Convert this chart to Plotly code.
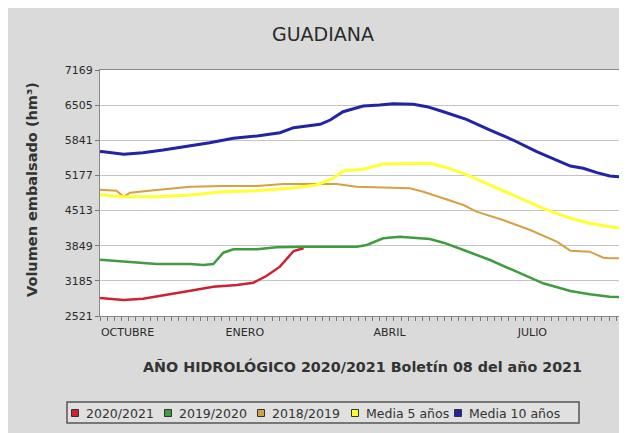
import plotly.graph_objects as go

# ---------------- data ----------------
y_ticks = [2521, 3185, 3849, 4513, 5177, 5841, 6505, 7169]
x_tick_pos = [3.84, 20.2, 40.38, 60.3]
x_tick_text = ["OCTUBRE", "ENERO", "ABRIL", "JULIO"]

x_2021 = [0, 0.5, 3.3, 6, 8.8, 12.6, 15.8, 19.1, 21.4, 23.2, 25.1, 27, 28.4]
v_2021 = [2860, 2855, 2823, 2848, 2918, 2999, 3075, 3107, 3150, 3277, 3453, 3749, 3800]

x_1920 = [0, 0.5, 3.3, 7.9, 12.6, 14.4, 15.8, 17.2, 18.6, 21.9, 24.6, 28.4, 35.8, 37.2,
          39.5, 41.8, 46, 47.9, 50.7, 54.4, 58.1, 61.8, 65.6, 68.3, 71.1, 72.4]
v_1920 = [3585, 3579, 3547, 3504, 3504, 3485, 3504, 3717, 3781, 3781, 3819, 3831, 3831, 3862,
          3989, 4020, 3976, 3906, 3768, 3579, 3358, 3139, 2993, 2931, 2886, 2880]

x_1819 = [0, 0.5, 2.3, 3.3, 4.2, 7.9, 12.6, 17.2, 21.9, 25.6, 30.2, 33, 35.8, 40.4, 43.2,
          45.1, 47.9, 50.7, 52.5, 56.2, 60, 63.7, 65.6, 68.3, 70.2, 71.1, 72.4]
v_1819 = [4905, 4902, 4889, 4775, 4851, 4902, 4965, 4977, 4977, 5015, 5015, 5015, 4965, 4953, 4933,
          4870, 4745, 4618, 4492, 4335, 4146, 3925, 3755, 3736, 3623, 3610, 3610]

x_m5 = [0, 0.5, 3.3, 7.9, 12.6, 17.2, 21.9, 26.5, 30.2, 32.5, 33.9, 36.7, 39.5, 42.8, 46,
        47.9, 50.7, 54.4, 58.1, 61.8, 65.6, 68.3, 71.1, 72.4]
v_m5 = [4810, 4807, 4775, 4775, 4807, 4870, 4889, 4933, 4996, 5122, 5261, 5293, 5393, 5406, 5406,
        5342, 5217, 4996, 4775, 4556, 4367, 4273, 4208, 4190]

x_m10 = [0, 0.5, 3.3, 6, 8.8, 12.6, 15.3, 18.6, 21.9, 25.1, 27, 30.7, 32.1, 33.9, 36.7, 39,
         40.9, 43.7, 45.6, 47.9, 51.1, 54.4, 57.6, 60.9, 63.7, 65.6, 67.4, 69.3, 71.1, 72.4]
v_m10 = [5630, 5626, 5576, 5607, 5657, 5733, 5795, 5878, 5922, 5984, 6079, 6143, 6224, 6381, 6489, 6508,
         6532, 6521, 6476, 6381, 6237, 6035, 5846, 5626, 5469, 5355, 5312, 5229, 5166, 5150]

series = [
    ("2020/2021", x_2021, v_2021, "#cc2233", 2.5),
    ("2019/2020", x_1920, v_1920, "#3f9c3f", 2.5),
    ("2018/2019", x_1819, v_1819, "#d6a044", 2),
    ("Media 5 años", x_m5, v_m5, "#ffff33", 3),
    ("Media 10 años", x_m10, v_m10, "#2323a8", 3),
]

FONT = "DejaVu Sans"
BG = "#dadada"

# the page body has an 8px margin; all screen positions below are figure pixels
OFF = 8
W, H = 627 - OFF, 433 - OFF
L, R, T, B = 100 - OFF, 624 - OFF, 70 - OFF, 316 - OFF


def px(p):  # screen x pixel -> paper
    return (p - OFF - L) / (R - L)


def py(p):  # screen y pixel -> paper
    return (B - (p - OFF)) / (B - T)


fig = go.Figure()
for name, xs, vs, col, w in series:
    fig.add_trace(go.Scatter(x=xs, y=vs, mode="lines", name=name,
                             line=dict(color=col, width=w), showlegend=False))

shapes = []
annotations = []

# legend box (drawn by hand, JFreeChart style)
shapes.append(dict(type="rect", xref="paper", yref="paper", x0=px(67), x1=px(579),
                   y0=py(423), y1=py(402), fillcolor="#e0e0e0",
                   line=dict(color="#555555", width=1.5)))
leg_sq = [75, 168, 261, 355, 458]
for (name, xs, vs, col, w), sx in zip(series, leg_sq):
    shapes.append(dict(type="rect", xref="paper", yref="paper",
                       x0=px(sx - 3.5), x1=px(sx + 3.5), y0=py(416.5), y1=py(409.5),
                       fillcolor=col, line=dict(color="#333333", width=1)))
    annotations.append(dict(text=name, xref="paper", yref="paper", x=px(sx + 9), y=py(413),
                            xanchor="left", yanchor="middle", showarrow=False,
                            font=dict(family=FONT, size=12.5, color="#333333")))

# axis titles
annotations.append(dict(text="AÑO HIDROLÓGICO 2020/2021 Boletín 08 del año 2021",
                        xref="paper", yref="paper", x=px(362.5), y=py(366),
                        xanchor="center", yanchor="middle", showarrow=False,
                        font=dict(family=FONT, size=14.3, color="#333333", weight="bold")))
annotations.append(dict(text="Volumen embalsado (hm³)", textangle=-90,
                        xref="paper", yref="paper", x=px(32), y=py(190),
                        xanchor="center", yanchor="middle", showarrow=False,
                        font=dict(family=FONT, size=14.5, color="#333333", weight="bold")))

fig.update_layout(
    width=W, height=H,
    margin=dict(l=L, r=W - R, t=T, b=H - B),
    paper_bgcolor=BG, plot_bgcolor="white",
    title=dict(text="GUADIANA", x=(323 - OFF) / W, y=1 - (34 - OFF) / H,
               xanchor="center", yanchor="middle",
               font=dict(family=FONT, size=19, color="#2a2a2a")),
    shapes=shapes, annotations=annotations,
    showlegend=False,
)
fig.update_xaxes(range=[0, 73.08], tickvals=x_tick_pos, ticktext=x_tick_text, ticks="",
                 showgrid=False, zeroline=False, showline=True, linecolor="#888888", linewidth=1,
                 mirror=True, ticklabelstandoff=6,
                 tickfont=dict(family=FONT, size=11, color="#2a2a2a"),
                 minor=dict(tickmode="linear", tick0=0, dtick=1, ticks="outside", ticklen=4,
                            tickcolor="#777777", showgrid=False))
fig.update_yaxes(range=[2521, 7169], tickvals=y_ticks, ticks="outside", ticklen=4,
                 tickcolor="#777777", showgrid=True, gridcolor="#c4c4c4", gridwidth=1,
                 zeroline=False, showline=True, linecolor="#888888", linewidth=1, mirror=True,
                 tickfont=dict(family=FONT, size=11, color="#2a2a2a"))

fig.write_html("out.html")
